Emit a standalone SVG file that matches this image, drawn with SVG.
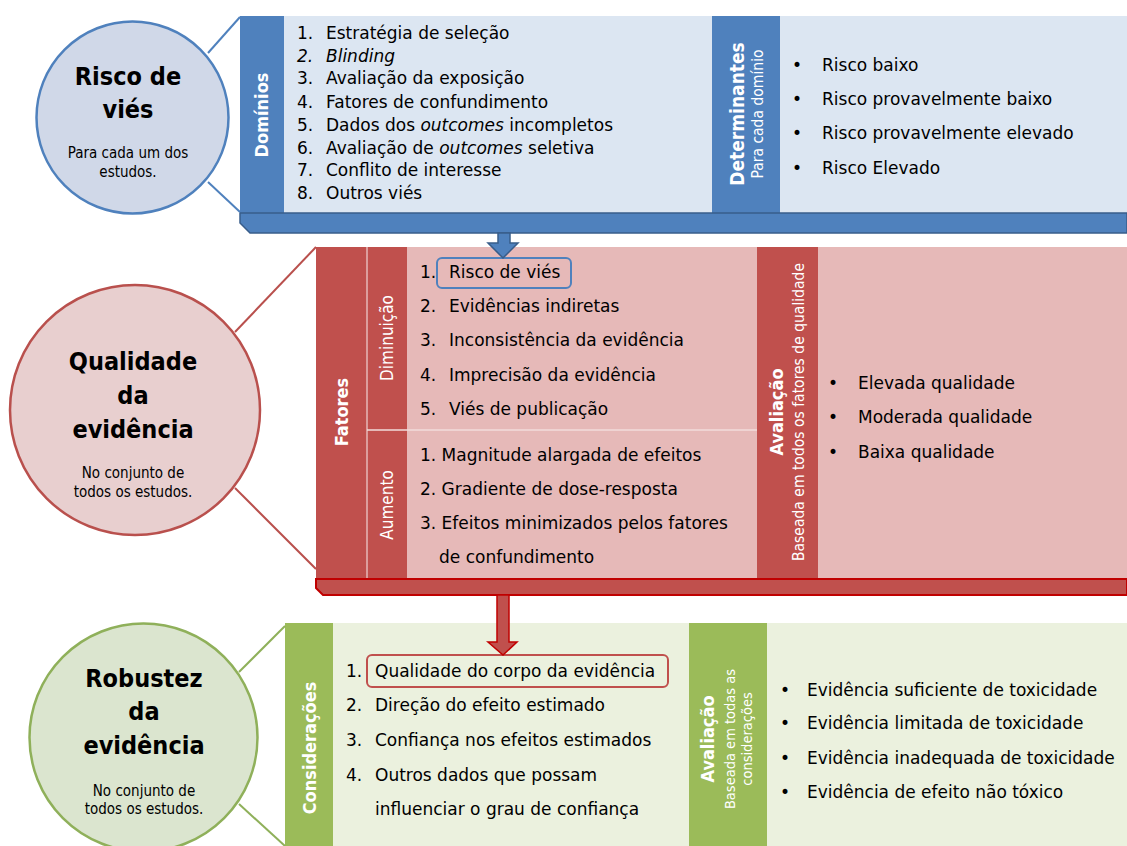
<svg xmlns="http://www.w3.org/2000/svg" width="1127" height="846" viewBox="0 0 1127 846">
<style>
text{font-family:"DejaVu Sans",sans-serif;fill:#000}
.it{font-size:17px}
.em{font-style:italic}
.title{font-family:"DejaVu Sans Condensed","DejaVu Sans",sans-serif;font-stretch:condensed;font-size:25px;font-weight:bold;text-anchor:middle}
.sub{font-family:"DejaVu Sans Condensed","DejaVu Sans",sans-serif;font-stretch:condensed;font-size:15px;text-anchor:middle}
.vb{font-family:"DejaVu Sans Condensed","DejaVu Sans",sans-serif;font-stretch:condensed;font-size:18px;font-weight:bold;fill:#fff;text-anchor:middle}
.vr{font-family:"DejaVu Sans Condensed","DejaVu Sans",sans-serif;font-stretch:condensed;font-size:17px;fill:#fff;text-anchor:middle}
.vs{font-family:"DejaVu Sans Condensed","DejaVu Sans",sans-serif;font-stretch:condensed;font-size:15.5px;fill:#fff;text-anchor:middle}
.blue-band{fill:#4F81BD}
.blue-bg{fill:#DCE6F2}
.red-band{fill:#C0504D}
.red-bg{fill:#E6B9B8}
.green-band{fill:#9BBB59}
.green-bg{fill:#EBF1DE}
</style>

<g id="risco-circle">
  <circle cx="132.5" cy="117.5" r="96" fill="#D0D8E8" stroke="#4F81BD" stroke-width="2.5"/>
  <text class="title" x="128" y="85">Risco de</text>
  <text class="title" x="128" y="118">viés</text>
  <text class="sub" x="128" y="158">Para cada um dos</text>
  <text class="sub" x="128" y="177">estudos.</text>
</g>

<g id="risco-panel">
  <rect class="blue-bg" x="240" y="16" width="887" height="197"/>
  <rect class="blue-band" x="240" y="16" width="44" height="197"/>
  <rect class="blue-band" x="712" y="16" width="68" height="197"/>
  <polygon points="240,213 1127,213 1127,233 250,233 240,223" fill="#4F81BD" stroke="#385D8A" stroke-width="1.5"/>
  <text class="vb" transform="translate(268,115) rotate(-90)">Domínios</text>
  <g class="it">
    <text x="297" y="39">1.</text><text x="326" y="39">Estratégia de seleção</text>
    <text x="297" y="62" class="em">2.</text><text x="326" y="62" class="em">Blinding</text>
    <text x="297" y="84">3.</text><text x="326" y="84">Avaliação da exposição</text>
    <text x="297" y="108">4.</text><text x="326" y="108">Fatores de confundimento</text>
    <text x="297" y="131">5.</text><text x="326" y="131">Dados dos <tspan class="em">outcomes</tspan> incompletos</text>
    <text x="297" y="154">6.</text><text x="326" y="154">Avaliação de <tspan class="em">outcomes</tspan> seletiva</text>
    <text x="297" y="176">7.</text><text x="326" y="176">Conflito de interesse</text>
    <text x="297" y="199">8.</text><text x="326" y="199">Outros viés</text>
  </g>
  <text class="vb" style="font-size:19px" transform="translate(744,114) rotate(-90)">Determinantes</text>
  <text class="vs" transform="translate(763,114) rotate(-90)">Para cada domínio</text>
  <g class="it">
    <text x="792" y="71">•</text><text x="822" y="71">Risco baixo</text>
    <text x="792" y="105">•</text><text x="822" y="105">Risco provavelmente baixo</text>
    <text x="792" y="139">•</text><text x="822" y="139">Risco provavelmente elevado</text>
    <text x="792" y="174">•</text><text x="822" y="174">Risco Elevado</text>
  </g>
</g>

<g id="qualidade-circle">
  <circle cx="135" cy="410" r="125" fill="#E8CFCF" stroke="#B9504D" stroke-width="2.5"/>
  <text class="title" x="133" y="370">Qualidade</text>
  <text class="title" x="133" y="404">da</text>
  <text class="title" x="133" y="438">evidência</text>
  <text class="sub" x="133" y="478">No conjunto de</text>
  <text class="sub" x="133" y="497">todos os estudos.</text>
</g>

<g id="qualidade-panel">
  <rect class="red-bg" x="316" y="247" width="811" height="332"/>
  <rect class="red-band" x="316" y="247" width="91" height="332"/>
  <line x1="367" y1="247" x2="367" y2="579" stroke="#E6B9B8" stroke-width="1.5"/>
  <line x1="367" y1="430" x2="757" y2="430" stroke="#F2DCDB" stroke-width="1.5"/>
  <rect class="red-band" x="757" y="247" width="61" height="332"/>
  <polygon points="316,579 1127,579 1127,595 323,595 316,588" fill="#C0504D" stroke="#C00000" stroke-width="2"/>
  <text class="vb" transform="translate(348,412) rotate(-90)">Fatores</text>
  <text class="vr" transform="translate(393,338) rotate(-90)">Diminuição</text>
  <text class="vr" transform="translate(393,505) rotate(-90)">Aumento</text>
  <rect x="437" y="258" width="134" height="30" rx="5" fill="none" stroke="#4F81BD" stroke-width="2"/>
  <g class="it">
    <text x="420" y="278">1.</text><text x="449" y="278">Risco de viés</text>
    <text x="420" y="312">2.</text><text x="449" y="312">Evidências indiretas</text>
    <text x="420" y="346">3.</text><text x="449" y="346">Inconsistência da evidência</text>
    <text x="420" y="381">4.</text><text x="449" y="381">Imprecisão da evidência</text>
    <text x="420" y="415">5.</text><text x="449" y="415">Viés de publicação</text>
    <text x="420" y="461">1. Magnitude alargada de efeitos</text>
    <text x="420" y="495">2. Gradiente de dose-resposta</text>
    <text x="420" y="529">3. Efeitos minimizados pelos fatores</text>
    <text x="439" y="563">de confundimento</text>
  </g>
  <text class="vb" transform="translate(783,412) rotate(-90)">Avaliação</text>
  <text class="vs" transform="translate(804,412) rotate(-90)">Baseada em todos os fatores de qualidade</text>
  <g class="it">
    <text x="828" y="389">•</text><text x="858" y="389">Elevada qualidade</text>
    <text x="828" y="423">•</text><text x="858" y="423">Moderada qualidade</text>
    <text x="828" y="458">•</text><text x="858" y="458">Baixa qualidade</text>
  </g>
</g>

<g id="robustez-circle">
  <circle cx="143.5" cy="737.5" r="114" fill="#DBE5CF" stroke="#8FB05A" stroke-width="2.5"/>
  <text class="title" x="144" y="687">Robustez</text>
  <text class="title" x="144" y="720">da</text>
  <text class="title" x="144" y="754">evidência</text>
  <text class="sub" x="144" y="796">No conjunto de</text>
  <text class="sub" x="144" y="814">todos os estudos.</text>
</g>

<g id="robustez-panel">
  <rect class="green-bg" x="285" y="623" width="842" height="223"/>
  <rect class="green-band" x="285" y="623" width="48" height="223"/>
  <rect class="green-band" x="689" y="623" width="78" height="223"/>
  <text class="vb" transform="translate(316,748) rotate(-90)">Considerações</text>
  <rect x="367" y="655" width="301" height="32" rx="5" fill="none" stroke="#C0504D" stroke-width="2"/>
  <g class="it">
    <text x="346" y="677">1.</text><text x="375" y="677">Qualidade do corpo da evidência</text>
    <text x="346" y="711">2.</text><text x="375" y="711">Direção do efeito estimado</text>
    <text x="346" y="746">3.</text><text x="375" y="746">Confiança nos efeitos estimados</text>
    <text x="346" y="781">4.</text><text x="375" y="781">Outros dados que possam</text>
    <text x="375" y="815">influenciar o grau de confiança</text>
  </g>
  <text class="vb" transform="translate(714,739) rotate(-90)">Avaliação</text>
  <text class="vs" style="font-size:14.5px" transform="translate(735,739) rotate(-90)">Baseada em todas as</text>
  <text class="vs" style="font-size:14.5px" transform="translate(752,739) rotate(-90)">considerações</text>
  <g class="it">
    <text x="780" y="696">•</text><text x="807" y="696">Evidência suficiente de toxicidade</text>
    <text x="780" y="729">•</text><text x="807" y="729">Evidência limitada de toxicidade</text>
    <text x="780" y="764">•</text><text x="807" y="764">Evidência inadequada de toxicidade</text>
    <text x="780" y="798">•</text><text x="807" y="798">Evidência de efeito não tóxico</text>
  </g>
</g>

<g id="connectors">
  <line x1="208" y1="53" x2="240" y2="17" stroke="#4F81BD" stroke-width="2"/>
  <line x1="208" y1="182" x2="240" y2="212" stroke="#4F81BD" stroke-width="2"/>
  <line x1="235" y1="332" x2="316" y2="247" stroke="#B9504D" stroke-width="2"/>
  <line x1="235" y1="488" x2="316" y2="569" stroke="#B9504D" stroke-width="2"/>
  <line x1="239" y1="672" x2="285" y2="626" stroke="#8FB05A" stroke-width="2"/>
  <line x1="239" y1="804" x2="285" y2="846" stroke="#8FB05A" stroke-width="2"/>
  <polygon points="498,233 510,233 510,243 518,243 503,258 488,243 498,243" fill="#4F81BD" stroke="#385D8A" stroke-width="1.5"/>
  <polygon points="497,595 509,595 509,642 517,642 503,655 488,642 497,642" fill="#C0504D" stroke="#C00000" stroke-width="1.5"/>
</g>
</svg>
